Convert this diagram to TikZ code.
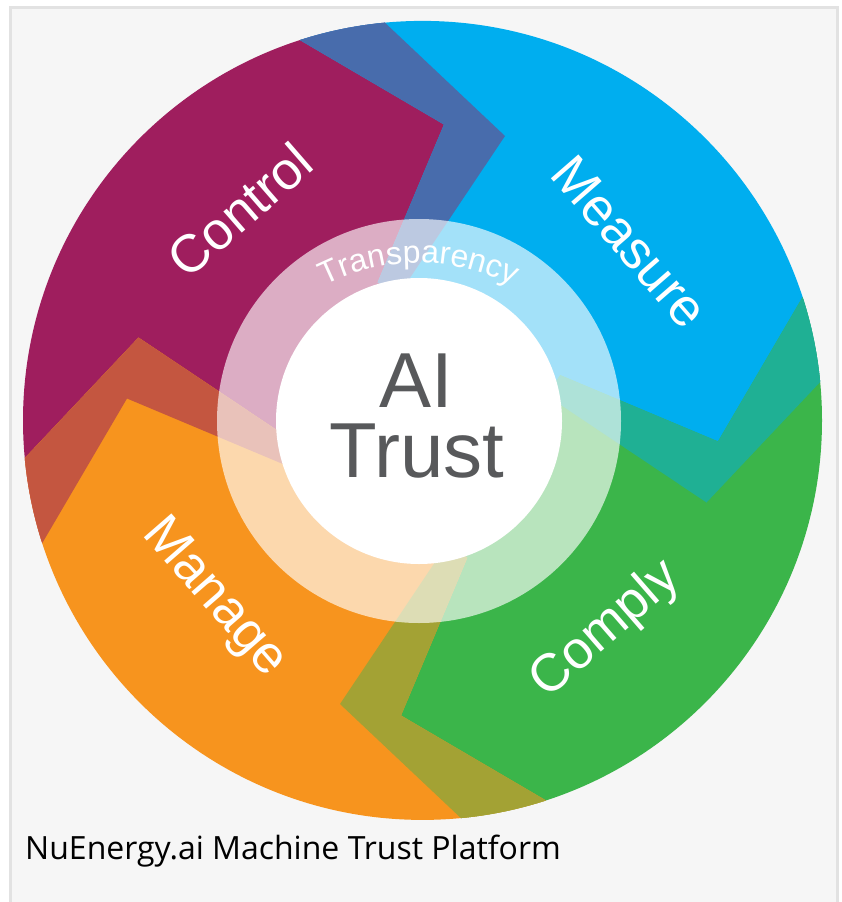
\documentclass[tikz,border=0pt]{standalone}
\usepackage{fontspec}
\setmainfont{Liberation Sans}
\newfontfamily\capfont{Open Sans}
\usetikzlibrary{decorations.text}
\definecolor{framegray}{HTML}{E2E2E2}
\definecolor{bggray}{HTML}{F6F6F6}
\definecolor{ctrlc}{HTML}{9F1E5E}
\definecolor{measc}{HTML}{00AEEF}
\definecolor{complc}{HTML}{3BB54A}
\definecolor{managc}{HTML}{F7941E}
\definecolor{ctrlmeas}{HTML}{486CAC}
\definecolor{meascompl}{HTML}{1FB094}
\definecolor{complmanag}{HTML}{A3A234}
\definecolor{managctrl}{HTML}{C45640}
\definecolor{trustgray}{HTML}{58595B}
\newcommand\chevpath{(-447,237) -- (-295.5,-21.5) -- (-137.7,44.8) -- (82.5,-284) -- (-135.6,-489.8) -- (-600,-600) -- (-600,237) -- cycle}
\tikzset{
  seglabel/.style={text=white, font=\fontsize{53}{58}\selectfont, inner sep=0pt},
  trustlabel/.style={text=trustgray, font=\fontsize{78}{78}\selectfont, inner sep=0pt, anchor=base},
}
\begin{document}
\begin{tikzpicture}[x=1pt,y=-1pt]
\useasboundingbox (0,0) rectangle (842,902);
\fill[white] (0,0) rectangle (842,902);
\fill[bggray] (10.5,7.5) rectangle (837.5,910);
\draw[framegray, line width=3pt] (10.5,910) -- (10.5,7.5) -- (837.5,7.5) -- (837.5,910);

\begin{scope}
  \clip (422.5,420.4) circle[radius=399.5pt];
  \begin{scope}[shift={(422.5,420)}]
    \fill[ctrlc] \chevpath;
    \fill[measc, rotate=-90] \chevpath;
    \fill[complc, rotate=-180] \chevpath;
    \fill[managc, rotate=90] \chevpath;
    \begin{scope}
      \clip \chevpath;
      \fill[ctrlmeas, rotate=-90] \chevpath;
    \end{scope}
    \begin{scope}
      \clip[rotate=-90] \chevpath;
      \fill[meascompl, rotate=-180] \chevpath;
    \end{scope}
    \begin{scope}
      \clip[rotate=-180] \chevpath;
      \fill[complmanag, rotate=90] \chevpath;
    \end{scope}
    \begin{scope}
      \clip[rotate=90] \chevpath;
      \fill[managctrl] \chevpath;
    \end{scope}
  \end{scope}
\end{scope}

% translucent ring and white core
\fill[white, opacity=0.64] (419,421) circle[radius=202pt];
\fill[white] (419,421) circle[radius=143pt];

% labels
\node[seglabel, rotate=41] (control) at (240,210) {Control};
\node[seglabel, rotate=-49] (measure) at (630,242) {Measure};
\node[seglabel, rotate=41] (comply) at (606,630) {Comply};
\node[seglabel, rotate=-49] (manage) at (214,598) {Manage};

\path[decorate, decoration={text along path, text align=center,
  text={|\color{white}\fontsize{32}{38}\selectfont|Transparency}}]
  (419,470) ++(140:207pt) arc[start angle=140, end angle=40, radius=207pt];

\node[trustlabel] (ai) at (416.5,407) {AI};
\node[trustlabel] (trust) at (417,477) {Trust};

\node[anchor=base west, inner sep=0pt, font=\capfont\fontsize{32}{36}\selectfont, text=black] (caption) at (25,859) {NuEnergy.ai Machine Trust Platform};
\end{tikzpicture}
\end{document}
